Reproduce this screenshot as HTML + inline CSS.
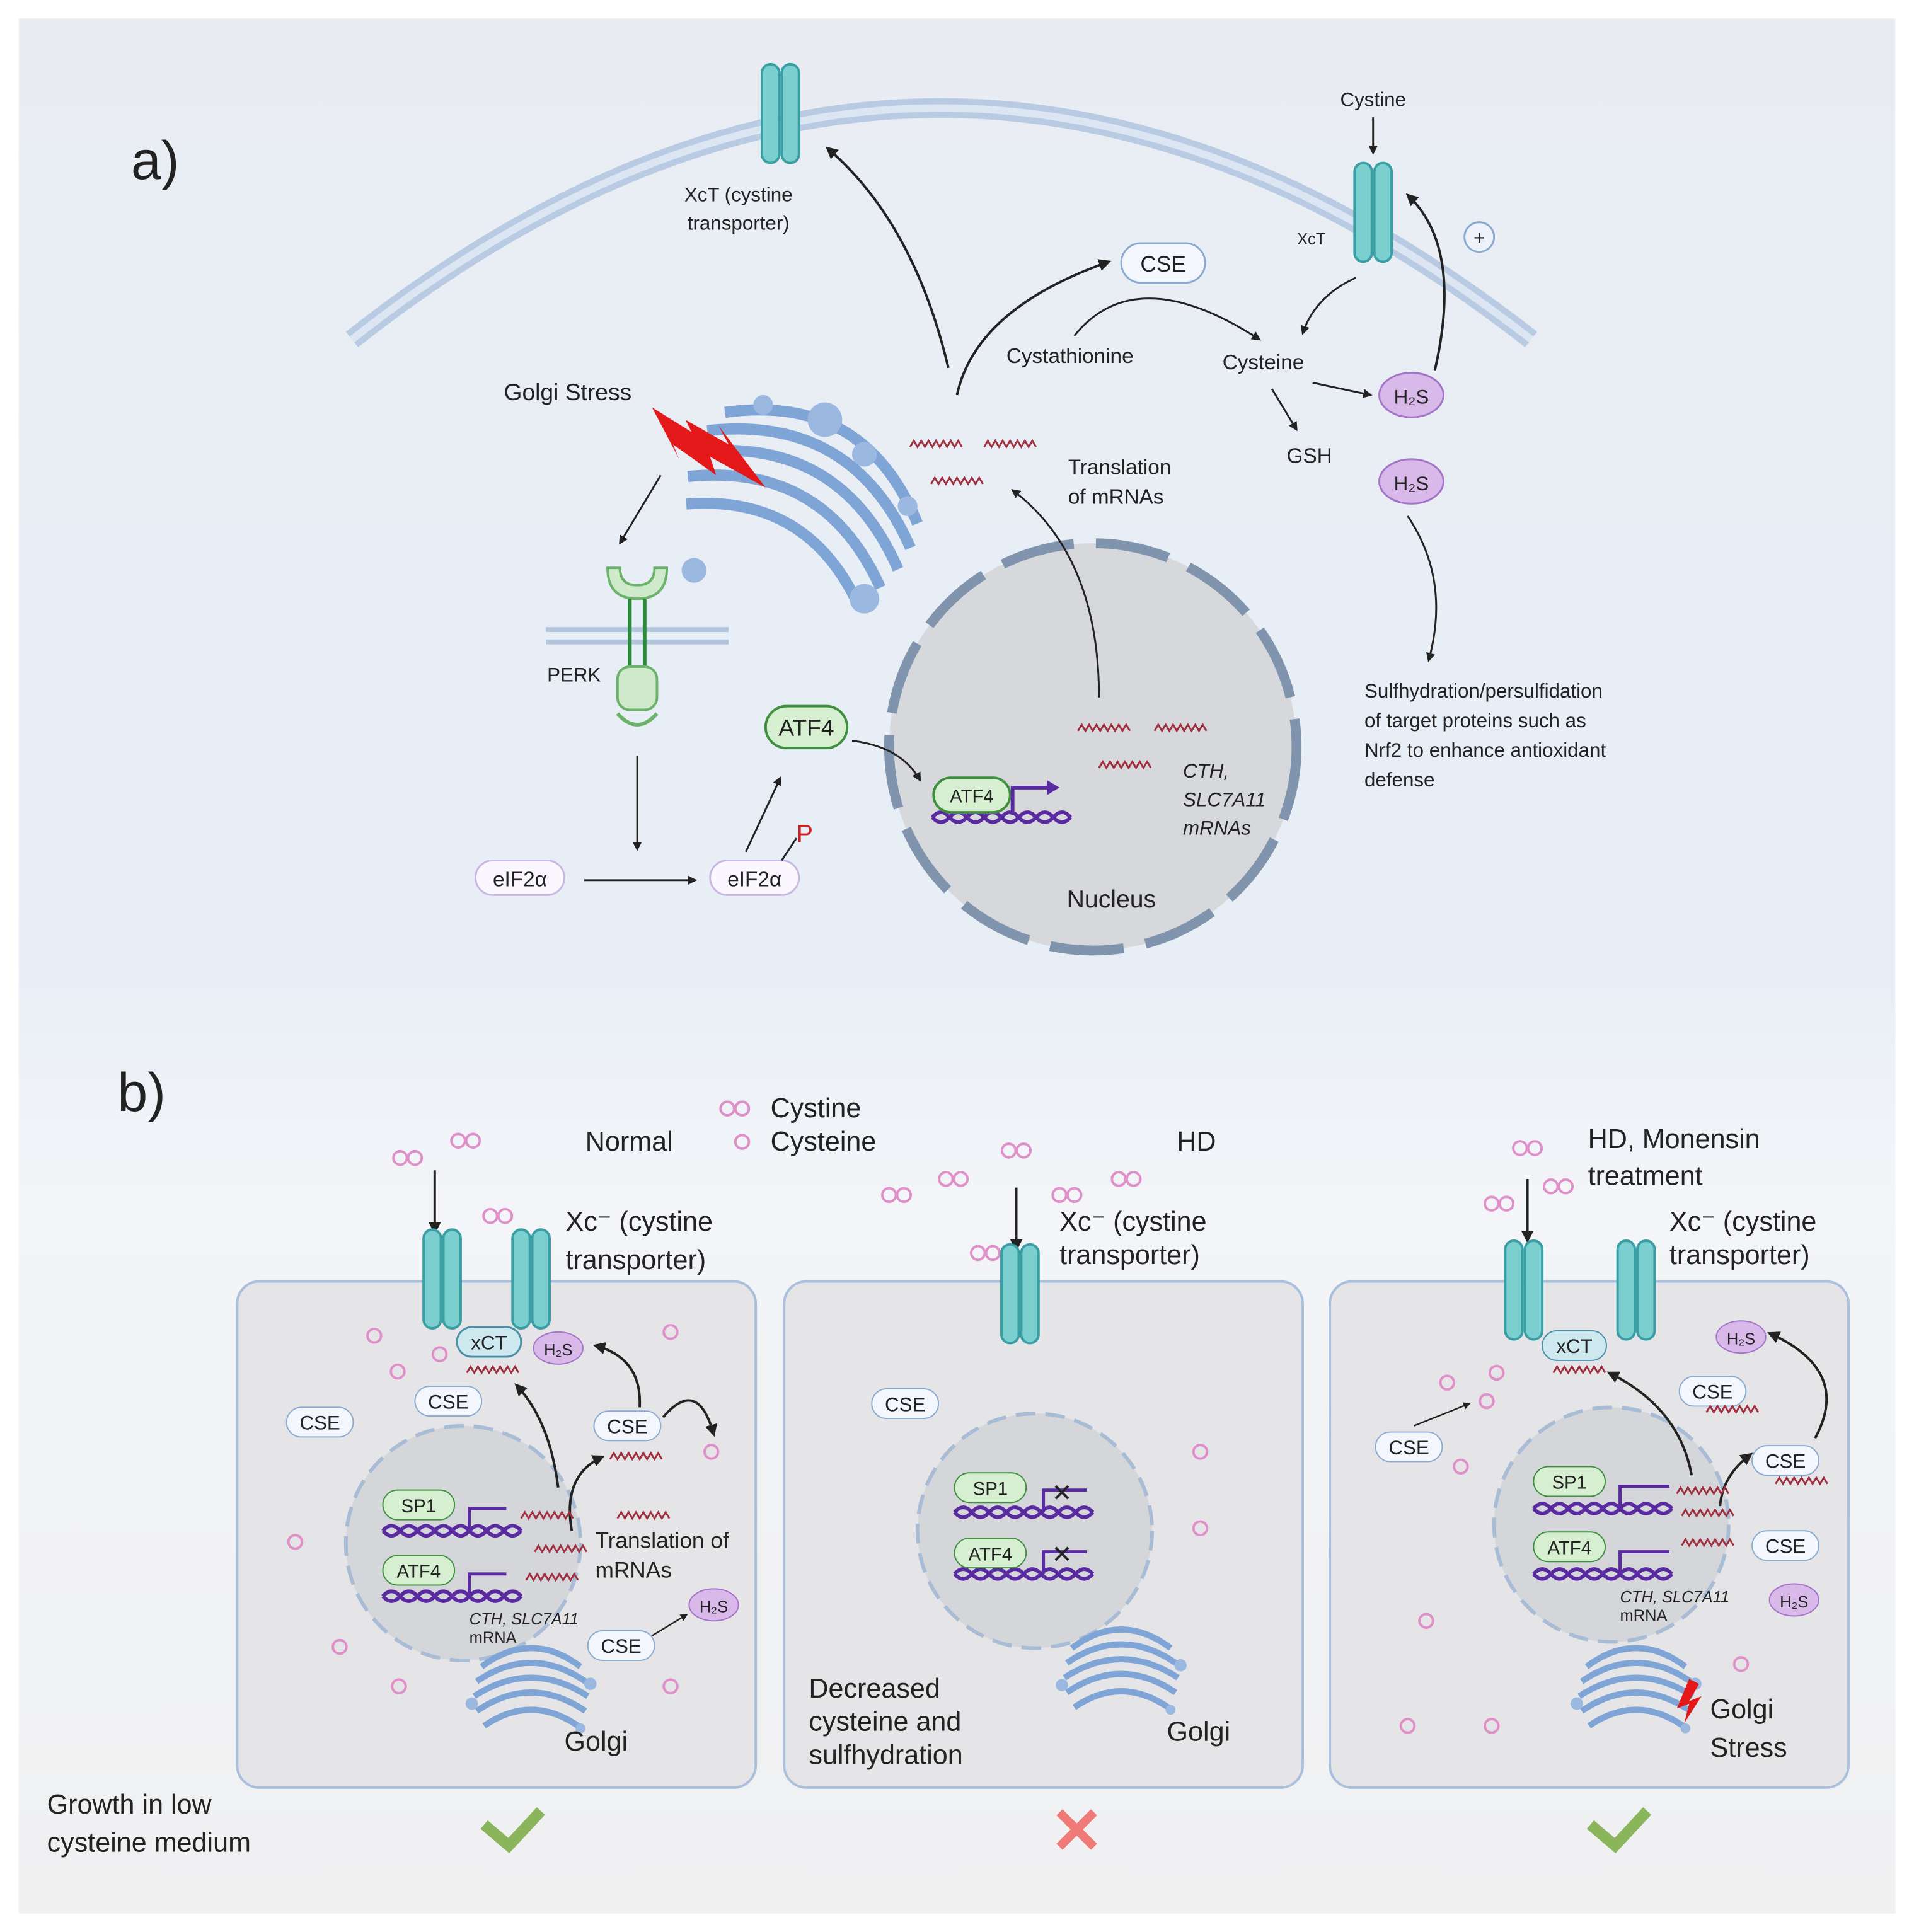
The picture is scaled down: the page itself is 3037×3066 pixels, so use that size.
<!DOCTYPE html>
<html><head><meta charset="utf-8"><style>
html,body{margin:0;padding:0;background:#fff}
svg{display:block}
text{font-family:"Liberation Sans",sans-serif;fill:#222}
</style></head><body>
<svg width="3037" height="3066" viewBox="0 0 1550 1565" xmlns="http://www.w3.org/2000/svg">
<defs>
<linearGradient id="bg" x1="0" y1="0" x2="0" y2="1">
<stop offset="0" stop-color="#e9edf3"/><stop offset="0.5" stop-color="#e8eef6"/><stop offset="0.62" stop-color="#f3f5f8"/><stop offset="1" stop-color="#f0f0f1"/>
</linearGradient>
<marker id="ah" viewBox="0 0 10 10" refX="8" refY="5" markerWidth="5" markerHeight="5" orient="auto"><path d="M0,0 L10,5 L0,10 z" fill="#222"/></marker>
<g id="trans"><rect x="-15" y="-40" width="14" height="80" rx="7" fill="#7ccfcf" stroke="#3a9fa4" stroke-width="2"/><rect x="1" y="-40" width="14" height="80" rx="7" fill="#7ccfcf" stroke="#3a9fa4" stroke-width="2"/></g>
<g id="dna"><path d="M0,0 q7,-8 14,0 t14,0 t14,0 t14,0 t14,0 t14,0 t14,0 t14,0" fill="none" stroke="#5a2aa0" stroke-width="3"/><path d="M0,0 q7,8 14,0 t14,0 t14,0 t14,0 t14,0 t14,0 t14,0 t14,0" fill="none" stroke="#5a2aa0" stroke-width="3"/></g>
<g id="mrna"><path d="M0,0 l3,-5 l3,5 l3,-5 l3,5 l3,-5 l3,5 l3,-5 l3,5 l3,-5 l3,5 l3,-5 l3,5 l3,-5 l3,5" fill="none" stroke="#a03040" stroke-width="1.5"/></g>
<g id="cys"><circle r="5.5" fill="none" stroke="#e090c8" stroke-width="2"/></g>
<g id="cyst"><circle cx="-6" r="5.5" fill="none" stroke="#e090c8" stroke-width="2"/><circle cx="6" r="5.5" fill="none" stroke="#e090c8" stroke-width="2"/></g>
<g id="golgi"><path d="M-40,-20 q40,-30 80,0 M-44,-8 q44,-30 88,0 M-46,4 q46,-30 92,0 M-44,16 q44,-30 88,0 M-38,28 q38,-26 76,0" fill="none" stroke="#7fa4d6" stroke-width="5"/><circle cx="-48" cy="10" r="5" fill="#9ab8e0"/><circle cx="48" cy="-6" r="5" fill="#9ab8e0"/><circle cx="40" cy="30" r="4" fill="#9ab8e0"/></g>
</defs>
<rect x="15" y="15" width="1520" height="1535" fill="url(#bg)"/>

<!-- PANEL A -->
<text x="106" y="145" font-size="44">a)</text>
<path d="M285,275 Q760,-100 1240,275" fill="none" stroke="#b8cbe2" stroke-width="16"/>
<path d="M285,275 Q760,-100 1240,275" fill="none" stroke="#dbe6f2" stroke-width="6"/>
<use href="#trans" x="632" y="92"/>
<text x="598" y="163" font-size="16" text-anchor="middle">XcT (cystine</text>
<text x="598" y="186" font-size="16" text-anchor="middle">transporter)</text>
<use href="#trans" x="1112" y="172"/>
<text x="1112" y="86" font-size="16" text-anchor="middle">Cystine</text>
<line x1="1112" y1="95" x2="1112" y2="124" stroke="#222" stroke-width="1.5" marker-end="url(#ah)"/>
<text x="1062" y="198" font-size="13" text-anchor="middle">XcT</text>
<circle cx="1198" cy="192" r="12" fill="#eef3fb" stroke="#8aaad0" stroke-width="1.5"/><text x="1198" y="198" font-size="16" text-anchor="middle">+</text>

<!-- golgi big -->
<g transform="translate(650,405) rotate(30)">
<path d="M-90,-30 q90,-70 180,0 M-95,-10 q95,-70 190,0 M-95,10 q95,-70 190,0 M-90,30 q90,-65 180,0 M-80,50 q80,-55 160,0" fill="none" stroke="#7fa4d6" stroke-width="9"/>
</g>
<circle cx="562" cy="462" r="10" fill="#9ab8e0"/><circle cx="700" cy="485" r="12" fill="#9ab8e0"/><circle cx="700" cy="368" r="10" fill="#9ab8e0"/><circle cx="618" cy="328" r="8" fill="#9ab8e0"/><circle cx="735" cy="410" r="8" fill="#9ab8e0"/><circle cx="668" cy="340" r="14" fill="#9ab8e0"/>
<path d="M528,330 L560,350 L555,340 L590,360 L582,345 L620,395 L575,370 L580,385 L545,360 L550,372 z" fill="#e41818"/>
<text x="408" y="324" font-size="19">Golgi Stress</text>
<line x1="535" y1="385" x2="502" y2="440" stroke="#222" stroke-width="1.5" marker-end="url(#ah)"/>
<!-- PERK -->
<line x1="442" y1="510" x2="590" y2="510" stroke="#b0c4dc" stroke-width="4"/><line x1="442" y1="520" x2="590" y2="520" stroke="#b0c4dc" stroke-width="4"/>
<path d="M492,460 q0,25 24,25 q24,0 24,-25 l-10,0 q0,14 -14,14 q-14,0 -14,-14 z" fill="#cfeacb" stroke="#6bb36a" stroke-width="2"/>
<line x1="510" y1="485" x2="510" y2="545" stroke="#2a8a3a" stroke-width="3"/><line x1="522" y1="485" x2="522" y2="545" stroke="#2a8a3a" stroke-width="3"/>
<rect x="500" y="540" width="32" height="35" rx="10" fill="#cfeacb" stroke="#6bb36a" stroke-width="2"/>
<path d="M500,578 q16,18 32,0" fill="none" stroke="#6bb36a" stroke-width="3"/>
<text x="443" y="552" font-size="16">PERK</text>
<line x1="516" y1="612" x2="516" y2="688" stroke="#222" stroke-width="1.5" marker-end="url(#ah)"/>
<rect x="385" y="697" width="72" height="28" rx="14" fill="#fbf7ff" stroke="#c9b8e2" stroke-width="1.5"/><text x="421" y="718" font-size="17" text-anchor="middle">eIF2α</text>
<line x1="473" y1="713" x2="563" y2="713" stroke="#222" stroke-width="1.5" marker-end="url(#ah)"/>
<rect x="575" y="697" width="72" height="28" rx="14" fill="#fbf7ff" stroke="#c9b8e2" stroke-width="1.5"/><text x="611" y="718" font-size="17" text-anchor="middle">eIF2α</text>
<path d="M633,697 l12,-18" stroke="#222" stroke-width="1.5"/><text x="645" y="682" font-size="20" fill="#d02020" style="fill:#d02020">P</text>
<line x1="604" y1="690" x2="632" y2="630" stroke="#222" stroke-width="1.5" marker-end="url(#ah)"/>
<rect x="620" y="572" width="66" height="34" rx="17" fill="#d6efd0" stroke="#3f8f3f" stroke-width="2"/><text x="653" y="596" font-size="19" text-anchor="middle">ATF4</text>
<!-- nucleus -->
<circle cx="885" cy="605" r="165" fill="#d6d8dc" stroke="#8094ad" stroke-width="8" stroke-dasharray="60,18"/>
<path d="M690,600 q40,5 55,32" fill="none" stroke="#222" stroke-width="1.5" marker-end="url(#ah)"/>
<use href="#dna" x="755" y="662"/>
<rect x="756" y="630" width="62" height="28" rx="14" fill="#d6efd0" stroke="#3f8f3f" stroke-width="2"/><text x="787" y="650" font-size="15" text-anchor="middle">ATF4</text>
<path d="M820,660 v-22 h30" fill="none" stroke="#5a2aa0" stroke-width="3"/><path d="M848,632 l10,6 l-10,6z" fill="#5a2aa0"/>
<use href="#mrna" x="873" y="592"/><use href="#mrna" x="935" y="592"/><use href="#mrna" x="890" y="622"/>
<text x="958" y="630" font-size="16" font-style="italic">CTH,</text>
<text x="958" y="653" font-size="16" font-style="italic">SLC7A11</text>
<text x="958" y="676" font-size="16" font-style="italic">mRNAs</text>
<text x="900" y="735" font-size="20" text-anchor="middle">Nucleus</text>
<path d="M890,565 Q890,450 820,397" fill="none" stroke="#222" stroke-width="1.5" marker-end="url(#ah)"/>
<use href="#mrna" x="737" y="362"/><use href="#mrna" x="797" y="362"/><use href="#mrna" x="754" y="392"/>
<text x="865" y="384" font-size="17">Translation</text><text x="865" y="408" font-size="17">of mRNAs</text>
<path d="M768,298 Q740,180 670,120" fill="none" stroke="#222" stroke-width="2" marker-end="url(#ah)"/>
<path d="M775,320 Q790,250 898,212" fill="none" stroke="#222" stroke-width="2" marker-end="url(#ah)"/>
<rect x="908" y="197" width="68" height="32" rx="16" fill="#f3f7fd" stroke="#8aaad0" stroke-width="1.5"/><text x="942" y="220" font-size="18" text-anchor="middle">CSE</text>
<text x="815" y="294" font-size="17">Cystathionine</text>
<path d="M870,272 Q920,210 1020,275" fill="none" stroke="#222" stroke-width="1.5" marker-end="url(#ah)"/>
<text x="990" y="299" font-size="17">Cysteine</text>
<path d="M1098,225 Q1065,240 1055,270" fill="none" stroke="#222" stroke-width="1.5" marker-end="url(#ah)"/>
<line x1="1030" y1="315" x2="1050" y2="348" stroke="#222" stroke-width="1.5" marker-end="url(#ah)"/>
<text x="1042" y="375" font-size="17">GSH</text>
<line x1="1063" y1="310" x2="1110" y2="320" stroke="#222" stroke-width="1.5" marker-end="url(#ah)"/>
<path d="M1162,300 Q1185,200 1140,158" fill="none" stroke="#222" stroke-width="2" marker-end="url(#ah)"/>
<ellipse cx="1143" cy="320" rx="26" ry="18" fill="#d9b8ea" stroke="#a474c8" stroke-width="1.5"/><text x="1143" y="327" font-size="16" text-anchor="middle">H₂S</text>
<ellipse cx="1143" cy="390" rx="26" ry="18" fill="#d9b8ea" stroke="#a474c8" stroke-width="1.5"/><text x="1143" y="397" font-size="16" text-anchor="middle">H₂S</text>
<path d="M1140,418 Q1175,470 1157,535" fill="none" stroke="#222" stroke-width="1.5" marker-end="url(#ah)"/>
<text x="1105" y="565" font-size="16">Sulfhydration/persulfidation</text>
<text x="1105" y="589" font-size="16">of target proteins such as</text>
<text x="1105" y="613" font-size="16">Nrf2 to enhance antioxidant</text>
<text x="1105" y="637" font-size="16">defense</text>

<!-- PANEL B -->
<text x="95" y="900" font-size="44">b)</text>
<use href="#cyst" x="595" y="898"/><text x="624" y="905" font-size="22">Cystine</text>
<use href="#cys" x="601" y="925"/><text x="624" y="932" font-size="22">Cysteine</text>
<text x="474" y="932" font-size="22">Normal</text>
<text x="953" y="932" font-size="22">HD</text>
<text x="1286" y="930" font-size="22">HD, Monensin</text><text x="1286" y="960" font-size="22">treatment</text>

<rect x="192" y="1038" width="420" height="410" rx="18" fill="#e5e5e7" stroke="#a9bfdc" stroke-width="2"/>
<rect x="635" y="1038" width="420" height="410" rx="18" fill="#e5e5e7" stroke="#a9bfdc" stroke-width="2"/>
<rect x="1077" y="1038" width="420" height="410" rx="18" fill="#e5e5e7" stroke="#a9bfdc" stroke-width="2"/>

<!-- cell 1 -->
<use href="#cyst" x="330" y="938"/><use href="#cyst" x="377" y="924"/><use href="#cyst" x="403" y="985"/>
<line x1="352" y1="948" x2="352" y2="998" stroke="#222" stroke-width="2" marker-end="url(#ah)"/>
<use href="#trans" x="358" y="1036"/><use href="#trans" x="430" y="1036"/>
<text x="458" y="997" font-size="22">Xc⁻ (cystine</text><text x="458" y="1028" font-size="22">transporter)</text>
<circle cx="375" cy="1250" r="95" fill="#d4d6da" stroke="#a9bcd6" stroke-width="3" stroke-dasharray="16,8"/>
<rect x="370" y="1075" width="52" height="24" rx="12" fill="#cde8ee" stroke="#4a90a8" stroke-width="1.5"/><text x="396" y="1093" font-size="16" text-anchor="middle">xCT</text>
<use href="#mrna" x="378" y="1112"/>
<ellipse cx="452" cy="1092" rx="20" ry="13" fill="#d9b8ea" stroke="#a474c8"/><text x="452" y="1098" font-size="13" text-anchor="middle">H₂S</text>
<rect x="232" y="1140" width="54" height="24" rx="12" fill="#f3f7fd" stroke="#8aaad0"/><text x="259" y="1158" font-size="16" text-anchor="middle">CSE</text>
<rect x="336" y="1123" width="54" height="24" rx="12" fill="#f3f7fd" stroke="#8aaad0"/><text x="363" y="1141" font-size="16" text-anchor="middle">CSE</text>
<rect x="481" y="1143" width="54" height="24" rx="12" fill="#f3f7fd" stroke="#8aaad0"/><text x="508" y="1161" font-size="16" text-anchor="middle">CSE</text>
<use href="#mrna" x="494" y="1182"/>
<rect x="476" y="1321" width="54" height="24" rx="12" fill="#f3f7fd" stroke="#8aaad0"/><text x="503" y="1339" font-size="16" text-anchor="middle">CSE</text>
<ellipse cx="578" cy="1300" rx="20" ry="13" fill="#d9b8ea" stroke="#a474c8"/><text x="578" y="1306" font-size="13" text-anchor="middle">H₂S</text>
<line x1="528" y1="1325" x2="556" y2="1308" stroke="#222" stroke-width="1.2" marker-end="url(#ah)"/>
<path d="M452,1205 Q445,1150 418,1122" fill="none" stroke="#222" stroke-width="2" marker-end="url(#ah)"/>
<path d="M463,1240 Q455,1195 488,1180" fill="none" stroke="#222" stroke-width="2" marker-end="url(#ah)"/>
<path d="M518,1140 Q520,1100 482,1090" fill="none" stroke="#222" stroke-width="2" marker-end="url(#ah)"/>
<path d="M537,1148 Q565,1115 578,1162" fill="none" stroke="#222" stroke-width="2" marker-end="url(#ah)"/>
<use href="#dna" x="310" y="1240"/><use href="#dna" x="310" y="1293"/>
<rect x="310" y="1207" width="58" height="24" rx="12" fill="#d6efd0" stroke="#3f8f3f"/><text x="339" y="1225" font-size="15" text-anchor="middle">SP1</text>
<rect x="310" y="1260" width="58" height="24" rx="12" fill="#d6efd0" stroke="#3f8f3f"/><text x="339" y="1278" font-size="15" text-anchor="middle">ATF4</text>
<path d="M380,1240 v-18 h30 M380,1293 v-18 h30" fill="none" stroke="#5a2aa0" stroke-width="2.5"/>
<use href="#mrna" x="422" y="1230"/><use href="#mrna" x="433" y="1257"/><use href="#mrna" x="426" y="1280"/><use href="#mrna" x="500" y="1230"/>
<text x="482" y="1254" font-size="18">Translation of</text><text x="482" y="1278" font-size="18">mRNAs</text>
<text x="380" y="1316" font-size="13" font-style="italic">CTH, SLC7A11</text><text x="380" y="1331" font-size="13">mRNA</text>
<use href="#golgi" x="430" y="1370"/>
<text x="457" y="1418" font-size="22">Golgi</text>
<use href="#cys" x="303" y="1082"/><use href="#cys" x="322" y="1111"/><use href="#cys" x="356" y="1097"/><use href="#cys" x="543" y="1079"/><use href="#cys" x="576" y="1176"/><use href="#cys" x="239" y="1249"/><use href="#cys" x="275" y="1334"/><use href="#cys" x="323" y="1366"/><use href="#cys" x="543" y="1366"/>
<text x="38" y="1469" font-size="22">Growth in low</text><text x="38" y="1500" font-size="22">cysteine medium</text>
<path d="M392,1478 l20,17 l26,-28" fill="none" stroke="#8ab55a" stroke-width="9"/>

<!-- cell 2 -->
<use href="#cyst" x="823" y="932"/><use href="#cyst" x="772" y="955"/><use href="#cyst" x="912" y="955"/><use href="#cyst" x="726" y="968"/><use href="#cyst" x="864" y="968"/><use href="#cyst" x="798" y="1015"/>
<line x1="823" y1="962" x2="823" y2="1012" stroke="#222" stroke-width="2" marker-end="url(#ah)"/>
<use href="#trans" x="826" y="1048"/>
<text x="858" y="997" font-size="22">Xc⁻ (cystine</text><text x="858" y="1024" font-size="22">transporter)</text>
<rect x="706" y="1125" width="54" height="24" rx="12" fill="#f3f7fd" stroke="#8aaad0"/><text x="733" y="1143" font-size="16" text-anchor="middle">CSE</text>
<circle cx="838" cy="1240" r="95" fill="#d4d6da" stroke="#a9bcd6" stroke-width="3" stroke-dasharray="16,8"/>
<use href="#dna" x="773" y="1225"/><use href="#dna" x="773" y="1275"/>
<rect x="773" y="1193" width="58" height="24" rx="12" fill="#d6efd0" stroke="#3f8f3f"/><text x="802" y="1211" font-size="15" text-anchor="middle">SP1</text>
<rect x="773" y="1246" width="58" height="24" rx="12" fill="#d6efd0" stroke="#3f8f3f"/><text x="802" y="1264" font-size="15" text-anchor="middle">ATF4</text>
<path d="M845,1225 v-18 h35 M845,1275 v-18 h35" fill="none" stroke="#5a2aa0" stroke-width="2.5"/>
<text x="860" y="1216" font-size="20" text-anchor="middle">✕</text><text x="860" y="1266" font-size="20" text-anchor="middle">✕</text>
<use href="#cys" x="972" y="1176"/><use href="#cys" x="972" y="1238"/>
<use href="#golgi" x="908" y="1355"/>
<text x="655" y="1375" font-size="22">Decreased</text><text x="655" y="1402" font-size="22">cysteine and</text><text x="655" y="1429" font-size="22">sulfhydration</text>
<text x="945" y="1410" font-size="22">Golgi</text>
<path d="M858,1468 l28,28 M886,1468 l-28,28" stroke="#f07a78" stroke-width="7"/>

<!-- cell 3 -->
<use href="#cyst" x="1237" y="930"/><use href="#cyst" x="1214" y="975"/><use href="#cyst" x="1262" y="961"/>
<line x1="1237" y1="955" x2="1237" y2="1005" stroke="#222" stroke-width="2" marker-end="url(#ah)"/>
<use href="#trans" x="1234" y="1045"/><use href="#trans" x="1325" y="1045"/>
<text x="1352" y="997" font-size="22">Xc⁻ (cystine</text><text x="1352" y="1024" font-size="22">transporter)</text>
<circle cx="1305" cy="1235" r="95" fill="#d4d6da" stroke="#a9bcd6" stroke-width="3" stroke-dasharray="16,8"/>
<rect x="1249" y="1078" width="52" height="24" rx="12" fill="#cde8ee" stroke="#4a90a8"/><text x="1275" y="1096" font-size="16" text-anchor="middle">xCT</text>
<use href="#mrna" x="1258" y="1112"/>
<ellipse cx="1410" cy="1083" rx="20" ry="13" fill="#d9b8ea" stroke="#a474c8"/><text x="1410" y="1089" font-size="13" text-anchor="middle">H₂S</text>
<rect x="1360" y="1115" width="54" height="24" rx="12" fill="#f3f7fd" stroke="#8aaad0"/><text x="1387" y="1133" font-size="16" text-anchor="middle">CSE</text>
<use href="#mrna" x="1382" y="1144"/>
<rect x="1114" y="1160" width="54" height="24" rx="12" fill="#f3f7fd" stroke="#8aaad0"/><text x="1141" y="1178" font-size="16" text-anchor="middle">CSE</text>
<line x1="1145" y1="1155" x2="1190" y2="1137" stroke="#222" stroke-width="1.2" marker-end="url(#ah)"/>
<rect x="1419" y="1171" width="54" height="24" rx="12" fill="#f3f7fd" stroke="#8aaad0"/><text x="1446" y="1189" font-size="16" text-anchor="middle">CSE</text>
<use href="#mrna" x="1438" y="1202"/>
<rect x="1419" y="1240" width="54" height="24" rx="12" fill="#f3f7fd" stroke="#8aaad0"/><text x="1446" y="1258" font-size="16" text-anchor="middle">CSE</text>
<ellipse cx="1453" cy="1296" rx="20" ry="13" fill="#d9b8ea" stroke="#a474c8"/><text x="1453" y="1302" font-size="13" text-anchor="middle">H₂S</text>
<path d="M1370,1195 Q1360,1140 1303,1112" fill="none" stroke="#222" stroke-width="2" marker-end="url(#ah)"/>
<path d="M1393,1220 Q1395,1195 1418,1178" fill="none" stroke="#222" stroke-width="2" marker-end="url(#ah)"/>
<path d="M1470,1165 Q1500,1110 1433,1080" fill="none" stroke="#222" stroke-width="2" marker-end="url(#ah)"/>
<use href="#dna" x="1242" y="1222"/><use href="#dna" x="1242" y="1275"/>
<rect x="1242" y="1188" width="58" height="24" rx="12" fill="#d6efd0" stroke="#3f8f3f"/><text x="1271" y="1206" font-size="15" text-anchor="middle">SP1</text>
<rect x="1242" y="1241" width="58" height="24" rx="12" fill="#d6efd0" stroke="#3f8f3f"/><text x="1271" y="1259" font-size="15" text-anchor="middle">ATF4</text>
<path d="M1312,1222 v-18 h40 M1312,1275 v-18 h40" fill="none" stroke="#5a2aa0" stroke-width="2.5"/>
<use href="#mrna" x="1358" y="1210"/><use href="#mrna" x="1362" y="1228"/><use href="#mrna" x="1362" y="1252"/>
<text x="1312" y="1298" font-size="13" font-style="italic">CTH, SLC7A11</text><text x="1312" y="1313" font-size="13">mRNA</text>
<use href="#golgi" x="1325" y="1370"/>
<path d="M1368,1360 l8,4 l-8,14 l10,-4 l-14,22 l4,-16 l-10,4 z" fill="#e41818"/>
<text x="1385" y="1392" font-size="22">Golgi</text><text x="1385" y="1423" font-size="22">Stress</text>
<use href="#cys" x="1172" y="1120"/><use href="#cys" x="1212" y="1112"/><use href="#cys" x="1204" y="1135"/><use href="#cys" x="1183" y="1188"/><use href="#cys" x="1155" y="1313"/><use href="#cys" x="1140" y="1398"/><use href="#cys" x="1208" y="1398"/><use href="#cys" x="1410" y="1348"/>
<path d="M1288,1478 l20,17 l26,-28" fill="none" stroke="#8ab55a" stroke-width="9"/>
</svg>
</body></html>
